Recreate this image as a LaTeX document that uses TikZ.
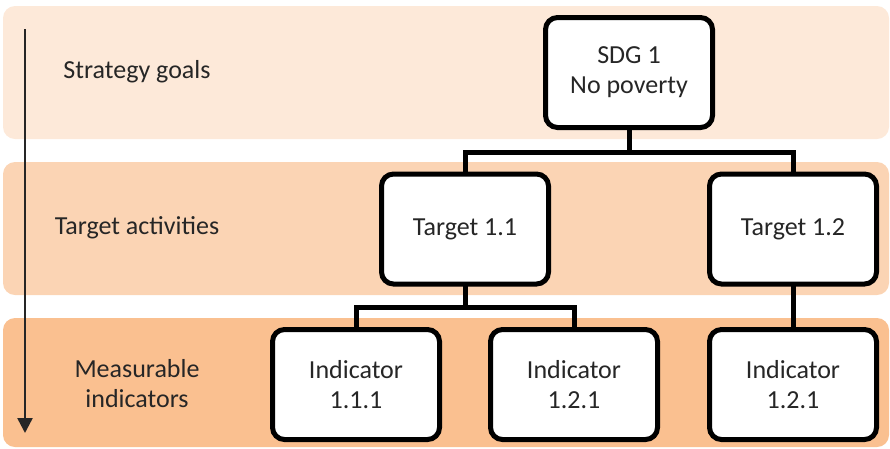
\documentclass[tikz,border=0pt]{standalone}
\usepackage{fontspec}
\setmainfont{Carlito}
\usetikzlibrary{arrows.meta,positioning}
\tikzset{>={Triangle[width=15pt,length=15pt]}}
\colorlet{textColor}{black!85}
\definecolor{fill1}{HTML}{FDE9D9}
\definecolor{fill2}{HTML}{FBD4B4}
\definecolor{fill3}{HTML}{FAC090}
\tikzset{
  band/.style={rounded corners=12pt},
  card/.style={draw,line width=5pt,rounded corners=12pt,fill=white,
    minimum width=167pt,minimum height=110pt,align=center,
    text=textColor,font=\fontsize{26}{30}\selectfont},
  rowlabel/.style={align=center,text=textColor,font=\fontsize{26}{30}\selectfont},
  conn/.style={line width=5pt,line cap=rect}
}

\begin{document}
\begin{tikzpicture}[x=1pt,y=-1pt]
      \useasboundingbox (0,0) rectangle (890,448);
      \fill [fill1,band] (3,6) rectangle (889,139);
      \fill [fill2,band] (3,162) rectangle (889,295);
      \fill [fill3,band] (3,318) rectangle (889,447);

      \node [rowlabel] (goals) at (137,72) {Strategy goals};
      \node [rowlabel] (activities) at (137,228) {Target activities};
      \node [rowlabel] (measures) at (137,384) {Measurable\\indicators};

      \coordinate (arrowTop) at (25,29);
      \coordinate (arrowEnd) at (25,433);
      \draw [->,line width=2.5pt,textColor] (arrowTop) -- (arrowEnd);

      \node [card] (sdg) at (629,72.5) {SDG 1\\No poverty};
      \node [card] (t11) at (465,229) {Target 1.1};
      \node [card] (t12) at (793,229) {Target 1.2};
      \node [card] (i111) at (356,384.5) {Indicator\\1.1.1};
      \node [card] (i121) at (574,384.5) {Indicator\\1.2.1};
      \node [card] (i122) at (793,384.5) {Indicator\\1.2.1};

      \coordinate (busA) at (0,152);
      \coordinate (busB) at (0,307);
      \draw [conn] (sdg.south) -- (sdg.south |- busA);
      \draw [conn] (t11.north) |- (busA -| t12) -- (t12.north);
      \draw [conn] (t11.south) -- (t11.south |- busB);
      \draw [conn] (i111.north) |- (busB -| i121) -- (i121.north);
      \draw [conn] (t12.south) -- (i122.north);
\end{tikzpicture}
\end{document}
